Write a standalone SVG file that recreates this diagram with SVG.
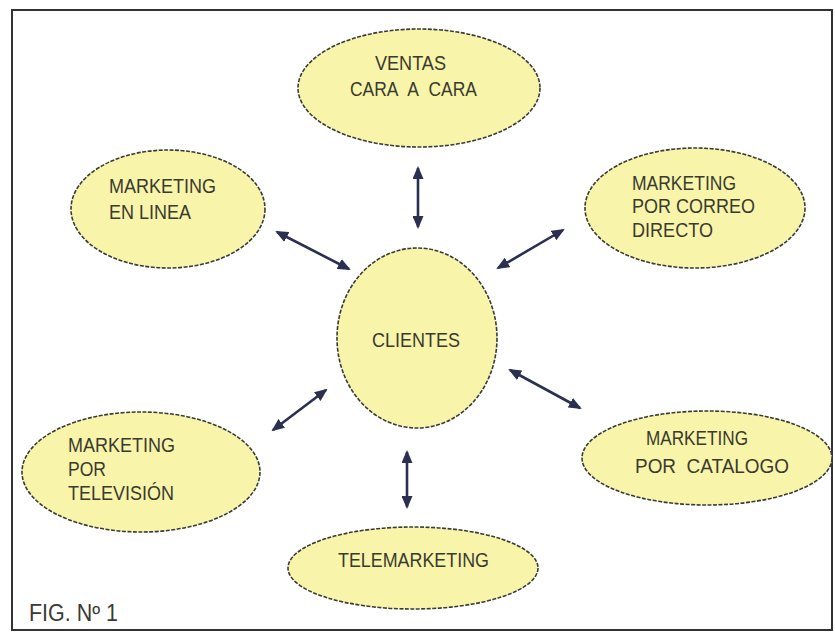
<svg xmlns="http://www.w3.org/2000/svg" width="835" height="632" viewBox="0 0 835 632">
<style>
.node ellipse{fill:#f8f5aa;stroke:#3b3b35;stroke-width:1.6;stroke-dasharray:4 1.5}
.node text,.fig{font-family:"Liberation Sans Narrow","Liberation Sans",Arial,sans-serif;fill:#3a3a30;font-size:20px}
.conn line{stroke:#2b3050;stroke-width:2.6;marker-start:url(#ah);marker-end:url(#ah)}
</style>
<defs>
<marker id="ah" markerUnits="userSpaceOnUse" markerWidth="13" markerHeight="11" refX="11" refY="5.5" orient="auto-start-reverse" viewBox="0 0 13 11">
<path d="M0,0 L13,5.5 L0,11 z" fill="#2b3050"/>
</marker>
</defs>
<rect x="0" y="0" width="835" height="632" fill="#ffffff"/>
<rect x="12" y="10" width="820" height="620" fill="none" stroke="#333333" stroke-width="2"/>
<g class="conn" id="connectors">
<line x1="418" y1="168" x2="418" y2="227"/>
<line x1="277" y1="232" x2="349" y2="269"/>
<line x1="563" y1="230" x2="498" y2="268"/>
<line x1="326" y1="390" x2="273" y2="430"/>
<line x1="510" y1="370" x2="580" y2="408"/>
<line x1="407" y1="452" x2="407" y2="507"/>
</g>
<g class="node" id="ventas">
<ellipse cx="419" cy="88" rx="121" ry="59"/>
<text x="375" y="70" textLength="71" lengthAdjust="spacingAndGlyphs">VENTAS</text>
<text x="350" y="96" textLength="127" lengthAdjust="spacingAndGlyphs">CARA&#160; A&#160; CARA</text>
</g>
<g class="node" id="enlinea">
<ellipse cx="168" cy="209" rx="97" ry="59"/>
<text x="109" y="193" textLength="107" lengthAdjust="spacingAndGlyphs">MARKETING</text>
<text x="109" y="219" textLength="82" lengthAdjust="spacingAndGlyphs">EN LINEA</text>
</g>
<g class="node" id="correo">
<ellipse cx="695" cy="208" rx="110" ry="60"/>
<text x="632" y="190" textLength="104" lengthAdjust="spacingAndGlyphs">MARKETING</text>
<text x="632" y="213" textLength="123" lengthAdjust="spacingAndGlyphs">POR CORREO</text>
<text x="632" y="237" textLength="81" lengthAdjust="spacingAndGlyphs">DIRECTO</text>
</g>
<g class="node" id="clientes">
<ellipse cx="417" cy="338" rx="80" ry="90"/>
<text x="372" y="347" textLength="88" lengthAdjust="spacingAndGlyphs">CLIENTES</text>
</g>
<g class="node" id="television">
<ellipse cx="141" cy="472" rx="119" ry="60"/>
<text x="68" y="452" textLength="107" lengthAdjust="spacingAndGlyphs">MARKETING</text>
<text x="68" y="476" textLength="38" lengthAdjust="spacingAndGlyphs">POR</text>
<text x="68" y="500" textLength="106" lengthAdjust="spacingAndGlyphs">TELEVISIÓN</text>
</g>
<g class="node" id="catalogo">
<ellipse cx="707" cy="458" rx="125" ry="47"/>
<text x="646" y="445" textLength="102" lengthAdjust="spacingAndGlyphs">MARKETING</text>
<text x="635" y="473" textLength="154" lengthAdjust="spacingAndGlyphs">POR&#160; CATALOGO</text>
</g>
<g class="node" id="telemarketing">
<ellipse cx="413" cy="568" rx="125" ry="41"/>
<text x="338" y="567" textLength="151" lengthAdjust="spacingAndGlyphs">TELEMARKETING</text>
</g>
<text class="fig" x="29" y="621" textLength="89" lengthAdjust="spacingAndGlyphs" style="font-size:23px">FIG. Nº 1</text>
</svg>
